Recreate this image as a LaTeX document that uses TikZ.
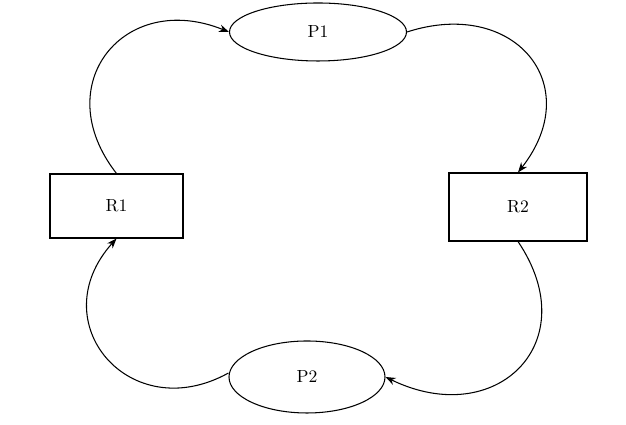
\documentclass[tikz,border=0pt]{standalone}
\usepackage{tikz}
\usetikzlibrary{shapes.geometric, arrows.meta, positioning}

\begin{document}
\begin{tikzpicture}[
    place/.style={draw, semithick, ellipse, inner sep=0pt, font=\normalsize},
    resource/.style={draw, semithick, rectangle, inner sep=0pt, font=\normalsize},
    arrow/.style={-{Stealth[length=2mm, width=1.5mm]}, semithick}
]
    \useasboundingbox (0,0) rectangle (12.52,8.5);

    % Places
    \node[place, minimum width=3.54cm, minimum height=1.16cm] (p1) at (6.36,7.86) {P1};
    \node[place, minimum width=3.12cm, minimum height=1.44cm] (p2) at (6.14,0.96) {P2};

    % Resources
    \node[resource, minimum width=2.66cm, minimum height=1.28cm] (r1) at (2.33,4.38) {R1};
    \node[resource, minimum width=2.76cm, minimum height=1.36cm] (r2) at (10.36,4.36) {R2};

    % Arrows
    \draw[arrow] (r1.north) to[out=128, in=158, looseness=1.6] (p1.west);
    \draw[arrow] (p1.east) to[out=18, in=52, looseness=1.6] (r2.north);
    \draw[arrow] (r2.south) to[out=-56, in=-26, looseness=1.65] (p2.east);
    \draw[arrow] ([yshift=0.08cm]p2.west) to[out=209, in=-132, looseness=1.65] (r1.south);
\end{tikzpicture}
\end{document}
